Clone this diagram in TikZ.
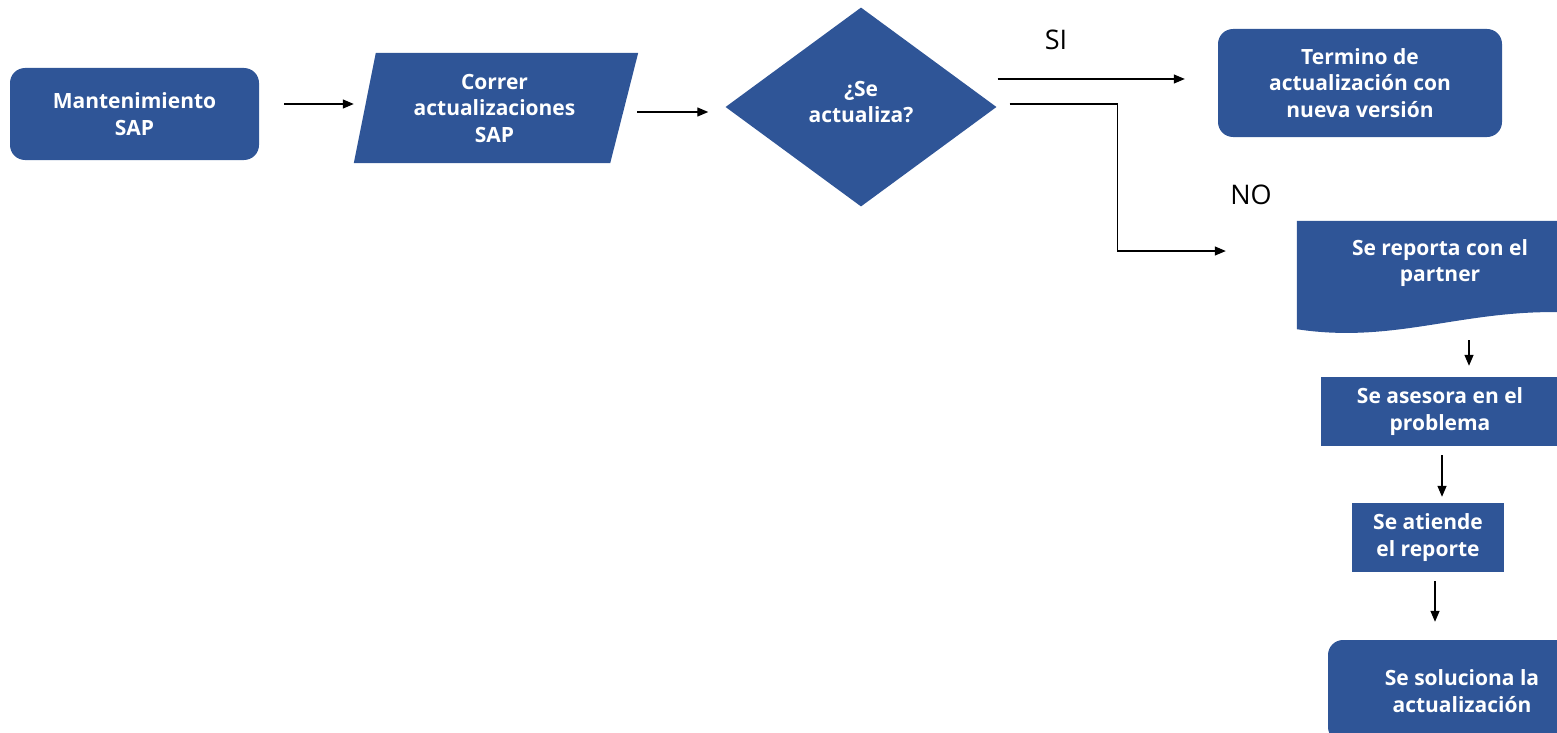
\documentclass[tikz,border=0pt]{standalone}
\usepackage{fontspec}
\setmainfont{Open Sans}
\usetikzlibrary{shapes.geometric,arrows.meta,backgrounds,calc}
\definecolor{boxblue}{HTML}{2F5597}
\begin{document}
\begin{tikzpicture}[x=1pt,y=-1pt,
  txt/.style={text=white, font=\bfseries\fontsize{21}{26.5}\selectfont, align=center, inner sep=0pt},
  box/.style={txt, fill=boxblue},
  rbox/.style={box, rounded corners=15pt},
  arr/.style={line width=1.3pt, -{Triangle[length=11pt,width=9pt]}},
  lbl/.style={font=\fontsize{27}{30}\selectfont, text=black, inner sep=0pt}]
\useasboundingbox (0,0) rectangle (1557,733);
\clip (0,0) rectangle (1557,733);

% nodes
\node[rbox, minimum width=249pt, minimum height=92pt] (m) at (134.5,114) {Mantenimiento\\SAP};
\node[txt, minimum width=259pt, minimum height=110pt] (c) at (494.5,108) {Correr\\actualizaciones\\SAP};
\node[box, diamond, minimum width=271pt, minimum height=199pt] (d) at (861,107) {};
\node[txt] (dt) at (861,102) {¿Se\\actualiza?};
\node[rbox, minimum width=284pt, minimum height=108pt] (t) at (1360,83) {Termino de\\actualización con\\nueva versión};
\node[txt, minimum width=286pt, minimum height=84pt] (p) at (1440,263) {Se reporta con el\\partner};
\node[box, minimum width=238pt, minimum height=69pt] (a) at (1440,411.5) {Se asesora en el\\problema};
\node[box, minimum width=152pt, minimum height=69pt] (e) at (1428,537.5) {Se atiende\\el reporte};
\node[rbox, minimum width=268pt, minimum height=102pt] (s) at (1462,691) {Se soluciona la\\actualización};

\node[lbl] (si) at (1056,40) {SI};
\node[lbl] (no) at (1251,195) {NO};

% shapes drawn behind text
\begin{scope}[on background layer]
  \fill[boxblue] ([xshift=11pt]c.north west) -- ([xshift=14pt]c.north east)
     -- ([xshift=-14pt]c.south east) -- ([xshift=-11pt]c.south west) -- cycle;
  \fill[boxblue] (p.north west) -- (p.north east) -- ([yshift=-8pt]p.south east)
     .. controls (1470,305) and (1400,345) .. ([yshift=-24pt]p.south west) -- cycle;
\end{scope}

% connectors
\draw[arr, shorten <=25pt, shorten >=11pt] ([yshift=10pt]m.east) -- ([yshift=10pt]m.east -| c.west);
\draw[arr, shorten <=13pt, shorten >=17pt] ([yshift=-4pt]c.east) -- ([yshift=-4pt]c.east -| d.west);
\coordinate (siT) at ([yshift=4pt]t.west);
\draw[arr, shorten <=1pt, shorten >=33pt] (d.east |- siT) -- (siT);
\draw[arr, shorten >=71pt] ([shift={(13pt,3pt)}]d.east) -- ++(108,0) |- ([yshift=12pt]p.west);
\draw[arr, shorten <=35pt, shorten >=11pt] ([xshift=29pt]a.north |- p.south) -- ([xshift=29pt]a.north);
\draw[arr, shorten <=9pt, shorten >=6pt] ([xshift=2pt]a.south) -- ([xshift=2pt]a.south |- e.north);
\draw[arr, shorten <=9pt, shorten >=18pt] ([xshift=7pt]e.south) -- ([xshift=7pt]e.south |- s.north);
\end{tikzpicture}
\end{document}
